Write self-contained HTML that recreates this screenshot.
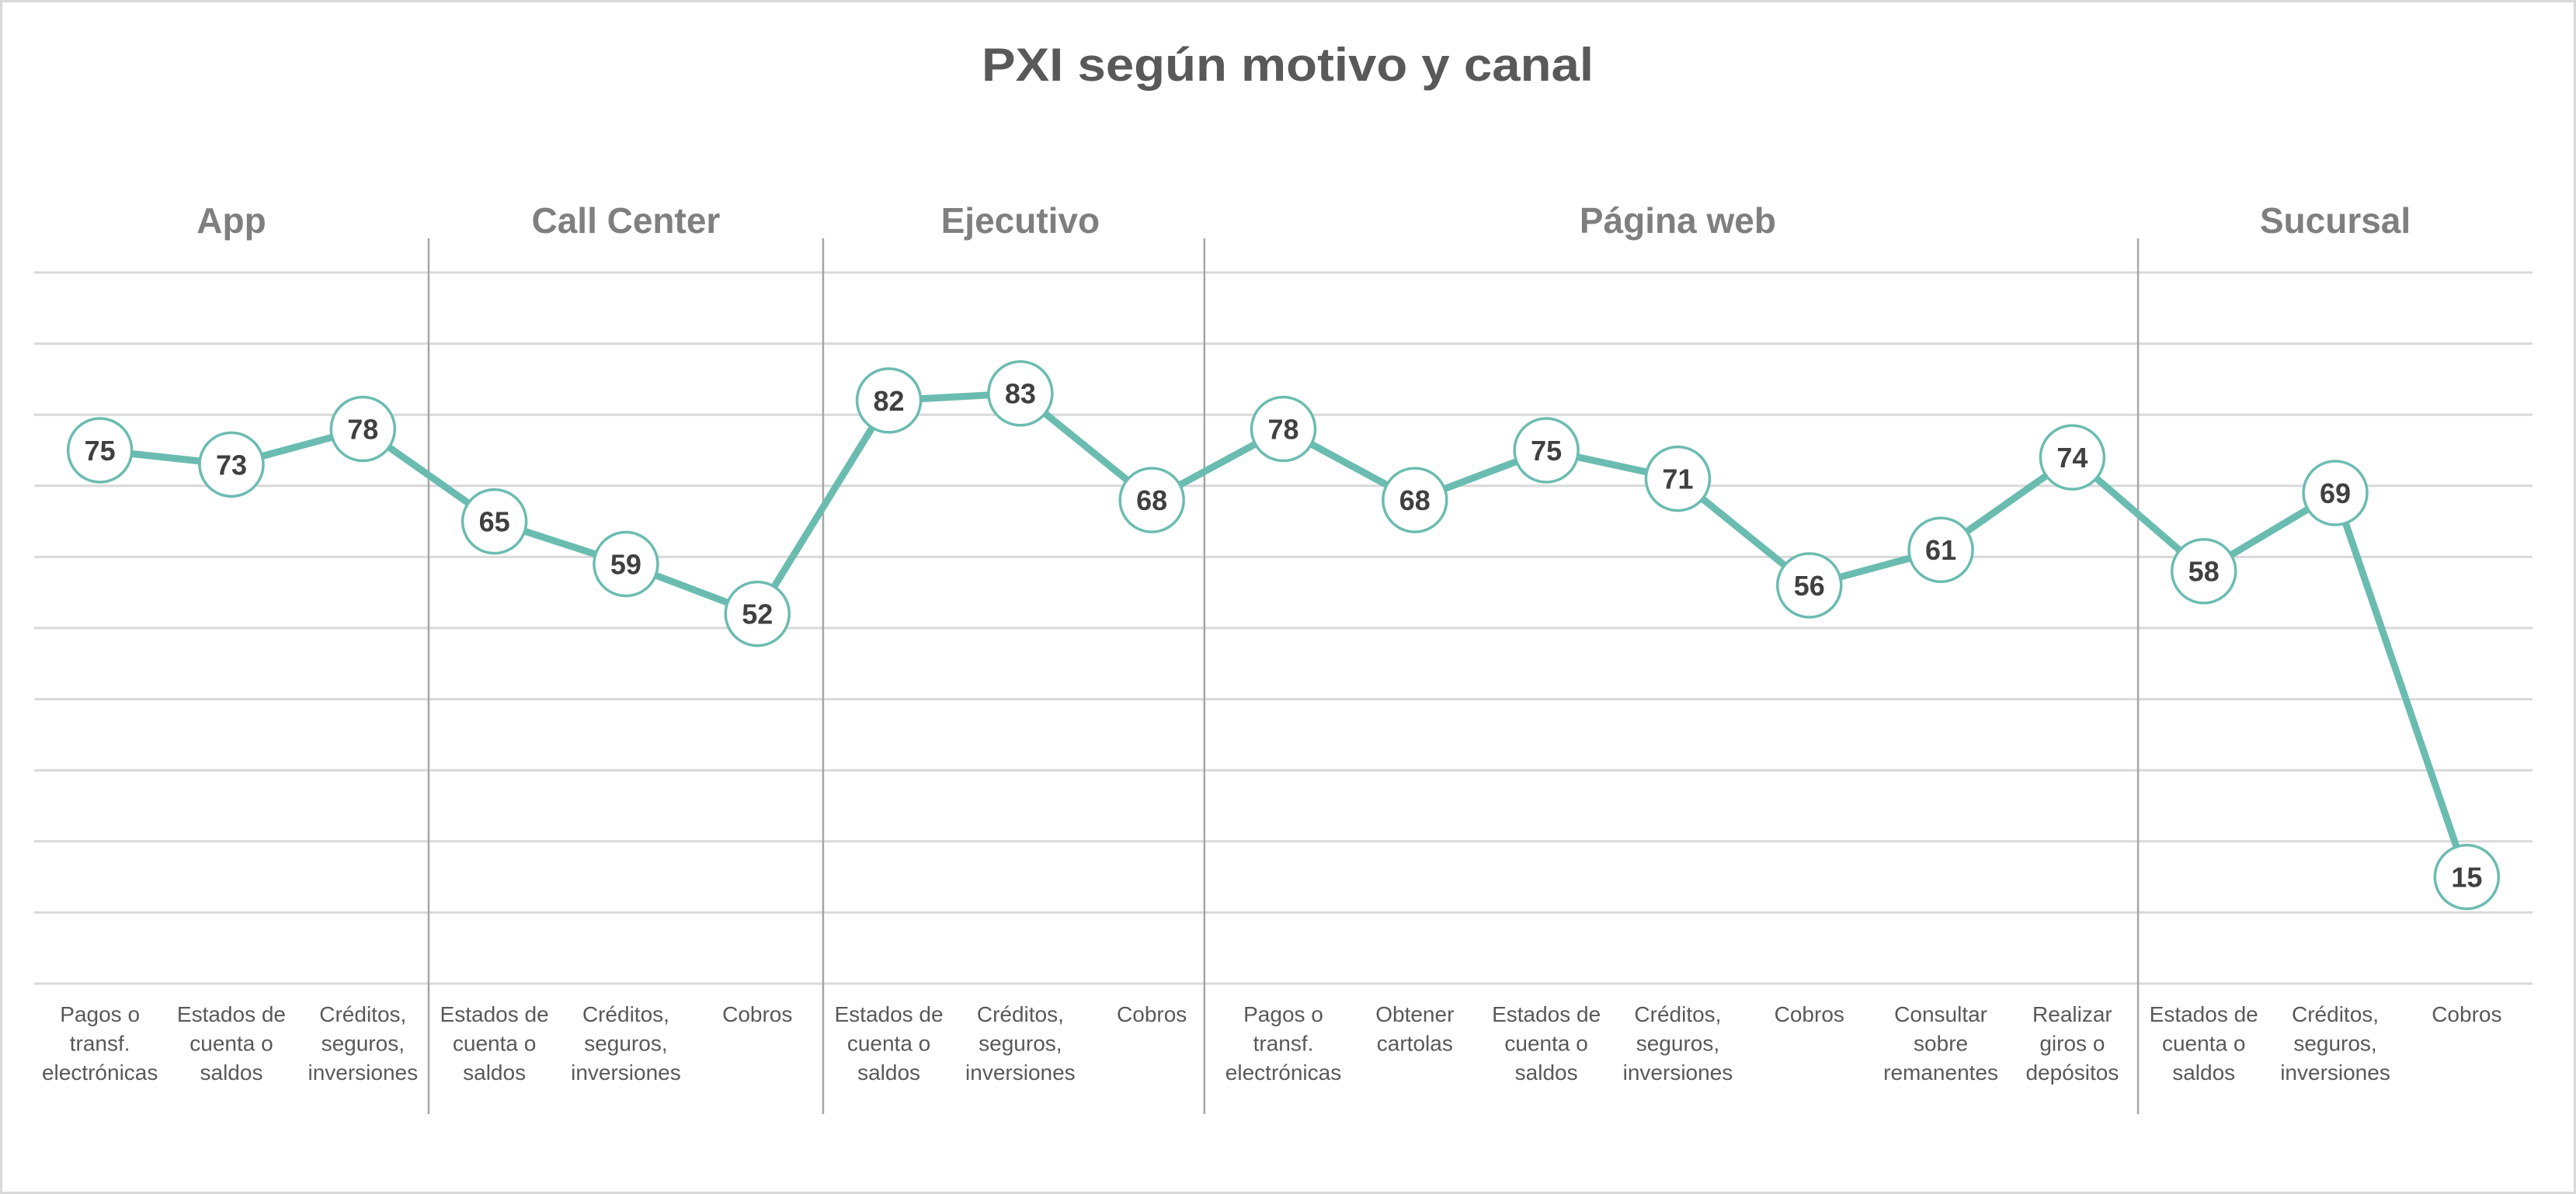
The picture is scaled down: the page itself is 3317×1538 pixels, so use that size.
<!DOCTYPE html>
<html><head><meta charset="utf-8"><style>
html,body{margin:0;padding:0;background:#fff;}
svg{display:block;}
</style></head><body>
<svg id="chart" width="3317" height="1538" xmlns="http://www.w3.org/2000/svg" font-family="'Liberation Sans', sans-serif">
<rect x="1.5" y="1.5" width="3314" height="1535" fill="#fff" stroke="#d9d9d9" stroke-width="3"/>
<text x="1658" y="104" text-anchor="middle" font-size="60" font-weight="bold" fill="#595959" textLength="788" lengthAdjust="spacingAndGlyphs">PXI según motivo y canal</text>
<g id="grid"></g><g id="dividers"></g><g id="groups"></g><g id="xlabels"></g><g id="series"></g>
</svg>
<script>
const categories = [
 ["Pagos o","transf.","electrónicas"],["Estados de","cuenta o","saldos"],["Créditos,","seguros,","inversiones"],
 ["Estados de","cuenta o","saldos"],["Créditos,","seguros,","inversiones"],["Cobros"],
 ["Estados de","cuenta o","saldos"],["Créditos,","seguros,","inversiones"],["Cobros"],
 ["Pagos o","transf.","electrónicas"],["Obtener","cartolas"],["Estados de","cuenta o","saldos"],["Créditos,","seguros,","inversiones"],["Cobros"],["Consultar","sobre","remanentes"],["Realizar","giros o","depósitos"],
 ["Estados de","cuenta o","saldos"],["Créditos,","seguros,","inversiones"],["Cobros"]
];
const values = [75,73,78,65,59,52,82,83,68,78,68,75,71,56,61,74,58,69,15];
const groupNames = ["App","Call Center","Ejecutivo","Página web","Sucursal"];
const groupSizes = [3,3,3,7,3];
const yTicks = [0,10,20,30,40,50,60,70,80,90,100];

const NS="http://www.w3.org/2000/svg";
const L=44, R=3261, T=351, B=1267, N=categories.length, W=(R-L)/N;
const dividerShift=[0,0,-17,0];
const xPos=i=>L+W*(i+0.5);
const yPos=v=>B-(v/100)*(B-T);
function mk(tag,attrs,parent){const e=document.createElementNS(NS,tag);for(const k in attrs)e.setAttribute(k,attrs[k]);parent.appendChild(e);return e;}
const g=id=>document.getElementById(id);

yTicks.forEach(t=>{
 const l=mk('line',{x1:L,x2:R,y1:yPos(t),y2:yPos(t),stroke:'#d9d9d9','stroke-width':3},g('grid'));
 
 
});

let start=0;
groupNames.forEach((name,gi)=>{
 const n=groupSizes[gi];
 const cx=L+W*(start+n/2);
 const t=mk('text',{x:cx,y:300,'text-anchor':'middle','font-size':46,'font-weight':'bold',fill:'#7f7f7f'},g('groups'));
 t.textContent=name;
 
 
 start+=n;
 if(gi<groupNames.length-1){
  const dx=L+W*start+dividerShift[gi];
  const d=mk('line',{x1:dx,x2:dx,y1:307,y2:1435,stroke:'#a6a6a6','stroke-width':2.5},g('dividers'));
  
  
 }
});

categories.forEach((lines,i)=>{
 const t=mk('text',{x:xPos(i),y:1316,'text-anchor':'middle','font-size':28,fill:'#595959'},g('xlabels'));
 
 
 lines.forEach((s,j)=>{const ts=mk('tspan',{x:xPos(i),dy:j===0?0:37.5},t);ts.textContent=s;});
});

const pts=values.map((v,i)=>xPos(i)+','+yPos(v)).join(' ');
const line=mk('polyline',{points:pts,fill:'none',stroke:'#6bbcb0','stroke-width':9,'stroke-linejoin':'round'},g('series'));


values.forEach((v,i)=>{
 const c=mk('circle',{cx:xPos(i),cy:yPos(v),r:41,fill:'#fff',stroke:'#6bbcb0','stroke-width':3.5},g('series'));
 
 
 const t=mk('text',{x:xPos(i),y:yPos(v)+13,'text-anchor':'middle','font-size':36,'font-weight':'bold',fill:'#404040'},g('series'));
 t.textContent=v;
 
 
});
</script>
</body></html>
